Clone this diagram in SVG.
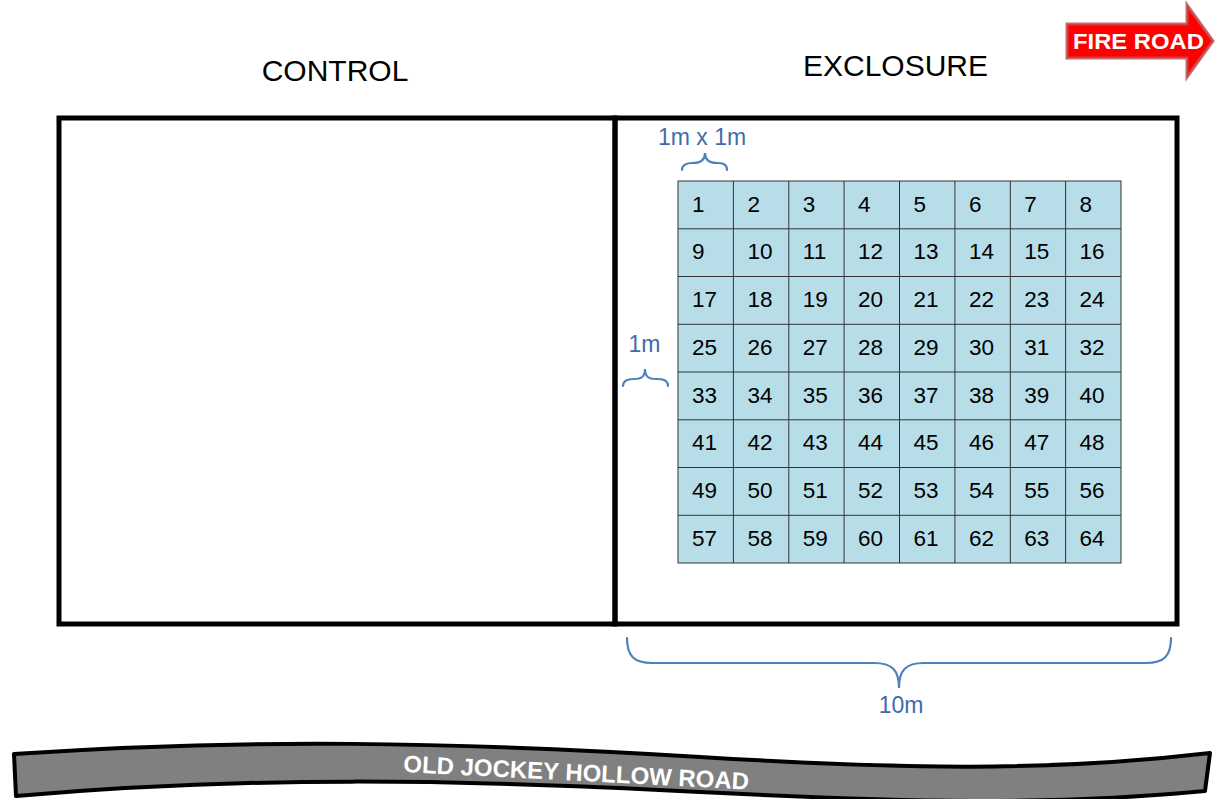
<svg xmlns="http://www.w3.org/2000/svg" width="1215" height="799" viewBox="0 0 1215 799">
<style>
.title{font-family:"Liberation Sans",Arial,sans-serif;font-size:30px;fill:#000}
.num{font-family:"Liberation Sans",Arial,sans-serif;font-size:22.5px;fill:#000}
.cell{fill:#b7dee8;stroke:#333;stroke-width:1}
.lbl{font-family:"Liberation Sans",Arial,sans-serif;font-size:23px;fill:#3f6ca8}
.brace{fill:none;stroke:#4f81bd;stroke-width:2.2;stroke-linecap:round}
.wall{fill:none;stroke:#000;stroke-width:5}
</style>
<rect width="1215" height="799" fill="#fff"/>
<text class="title" x="335" y="81" text-anchor="middle">CONTROL</text>
<text class="title" x="895.5" y="76" text-anchor="middle">EXCLOSURE</text>
<g id="fire-road">
<path d="M1067,24 L1187,24 L1187,5 L1213,41 L1187,77 L1187,58 L1067,58 Z" fill="#ff0000" stroke="#c0504d" stroke-opacity="0.85" stroke-width="3" stroke-linejoin="miter"/>
<text x="1073" y="48.5" font-family="'Liberation Sans',Arial,sans-serif" font-weight="bold" font-size="22" fill="#fff" textLength="131" lengthAdjust="spacingAndGlyphs">FIRE ROAD</text>
</g>
<g id="plots">
<rect id="control" class="wall" x="59" y="118" width="556" height="506"/>
<rect id="exclosure" class="wall" x="615" y="118" width="562" height="506"/>
</g>
<g id="grid">
<rect class="cell" x="678" y="181" width="443" height="382"/>
<path d="M733.4,181V563M788.8,181V563M844.1,181V563M899.5,181V563M954.9,181V563M1010.3,181V563M1065.6,181V563M678,228.8H1121M678,276.5H1121M678,324.3H1121M678,372H1121M678,419.8H1121M678,467.5H1121M678,515.3H1121" stroke="#333" stroke-width="1" fill="none"/>
<g class="num">
<text x="692" y="211.5">1</text><text x="747.4" y="211.5">2</text><text x="802.8" y="211.5">3</text><text x="858.1" y="211.5">4</text><text x="913.5" y="211.5">5</text><text x="968.9" y="211.5">6</text><text x="1024.3" y="211.5">7</text><text x="1079.6" y="211.5">8</text>
<text x="692" y="259.3">9</text><text x="747.4" y="259.3">10</text><text x="802.8" y="259.3">11</text><text x="858.1" y="259.3">12</text><text x="913.5" y="259.3">13</text><text x="968.9" y="259.3">14</text><text x="1024.3" y="259.3">15</text><text x="1079.6" y="259.3">16</text>
<text x="692" y="307">17</text><text x="747.4" y="307">18</text><text x="802.8" y="307">19</text><text x="858.1" y="307">20</text><text x="913.5" y="307">21</text><text x="968.9" y="307">22</text><text x="1024.3" y="307">23</text><text x="1079.6" y="307">24</text>
<text x="692" y="354.8">25</text><text x="747.4" y="354.8">26</text><text x="802.8" y="354.8">27</text><text x="858.1" y="354.8">28</text><text x="913.5" y="354.8">29</text><text x="968.9" y="354.8">30</text><text x="1024.3" y="354.8">31</text><text x="1079.6" y="354.8">32</text>
<text x="692" y="402.5">33</text><text x="747.4" y="402.5">34</text><text x="802.8" y="402.5">35</text><text x="858.1" y="402.5">36</text><text x="913.5" y="402.5">37</text><text x="968.9" y="402.5">38</text><text x="1024.3" y="402.5">39</text><text x="1079.6" y="402.5">40</text>
<text x="692" y="450.3">41</text><text x="747.4" y="450.3">42</text><text x="802.8" y="450.3">43</text><text x="858.1" y="450.3">44</text><text x="913.5" y="450.3">45</text><text x="968.9" y="450.3">46</text><text x="1024.3" y="450.3">47</text><text x="1079.6" y="450.3">48</text>
<text x="692" y="498">49</text><text x="747.4" y="498">50</text><text x="802.8" y="498">51</text><text x="858.1" y="498">52</text><text x="913.5" y="498">53</text><text x="968.9" y="498">54</text><text x="1024.3" y="498">55</text><text x="1079.6" y="498">56</text>
<text x="692" y="545.8">57</text><text x="747.4" y="545.8">58</text><text x="802.8" y="545.8">59</text><text x="858.1" y="545.8">60</text><text x="913.5" y="545.8">61</text><text x="968.9" y="545.8">62</text><text x="1024.3" y="545.8">63</text><text x="1079.6" y="545.8">64</text>
</g>
</g>
<g id="dimensions">
<text class="lbl" x="702" y="145" text-anchor="middle">1m x 1m</text>
<path class="brace" d="M682,170 C682,164 687,163 693,163 C700,163 705,161 705,153 C705,161 710,163 717,163 C723,163 727,164 727,170"/>
<text class="lbl" x="644.5" y="352" text-anchor="middle">1m</text>
<path class="brace" d="M623,386 C623,380 628,379 634,379 C641,379 645,377 645,369 C645,377 649,379 656,379 C663,379 668,380 668,386"/>
<path class="brace" d="M627,638 C627,656 634,663 652,663 L874,663 C892,663 899,670 899,688 C899,670 906,663 924,663 L1146,663 C1164,663 1171,656 1171,638"/>
<text class="lbl" x="901" y="713" text-anchor="middle">10m</text>
</g>
<g id="road">
<path d="M14,754 C250,738 450,742 700,757 C900,769 1050,772 1210,753 L1205,791 C1050,806 900,802 700,792 C450,779 250,776 16,796 Z" fill="#808080" stroke="#000" stroke-width="4" stroke-linejoin="round"/>
<text x="403" y="772" transform="rotate(2.9 403 772)" font-family="'Liberation Sans',Arial,sans-serif" font-weight="bold" font-size="24" fill="#fff" textLength="346" lengthAdjust="spacingAndGlyphs">OLD JOCKEY HOLLOW ROAD</text>
</g>
</svg>
